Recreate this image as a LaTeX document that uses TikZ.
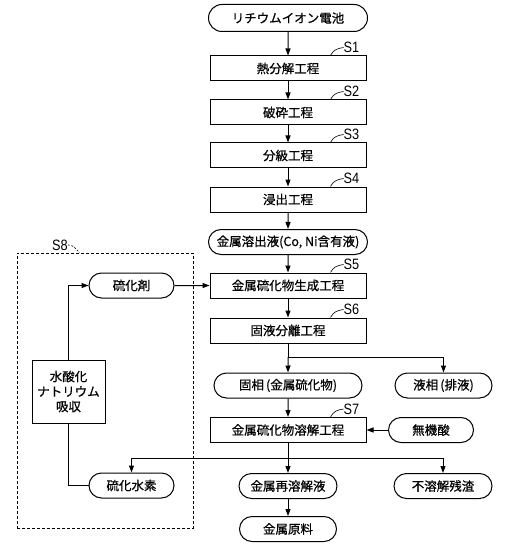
\documentclass[tikz,border=0pt]{standalone}
\usepackage{fontspec}
\setmainfont{Noto Sans CJK JP}[FakeBold=0.6]
\newfontfamily\tagfont{Liberation Sans}[FakeStretch=0.85]
\usetikzlibrary{arrows.meta,shapes.misc}

\tikzset{
  box/.style={draw, line width=1pt, minimum width=156pt, minimum height=25pt, inner sep=1pt, font=\fontsize{12.5}{15}\selectfont},
  pill/.style={draw, line width=1pt, rounded rectangle, minimum height=25pt, inner sep=1pt, font=\fontsize{12.5}{15}\selectfont},
  steptag/.style={inner sep=0pt, font=\tagfont\fontsize{15}{15}\selectfont},
  flow/.style={line width=1pt, -{Triangle[length=7pt,width=5pt]}},
  wire/.style={line width=1pt}
}

\begin{document}
\begin{tikzpicture}[x=1pt, y=-1pt]
\useasboundingbox (0,0) rectangle (529,548);
\node[pill, minimum width=161pt, minimum height=27pt] (lib) at (288,18) {リチウムイオン電池};
\node[box] (s1) at (288,68.5) {熱分解工程}; \node[box] (s2) at (288,112.5) {破砕工程}; \node[box] (s3) at (288,155.5) {分級工程}; \node[box] (s4) at (288,199.5) {浸出工程};
\node[pill, minimum width=161pt] (leach) at (288,242) {金属溶出液(Co, Ni含有液)};
\node[box] (s5) at (288,285.5) {金属硫化物生成工程}; \node[box] (s6) at (288,330.5) {固液分離工程};
\node[pill, minimum width=150pt] (solid) at (288,385.5) {固相\,(金属硫化物)}; \node[pill, minimum width=99pt] (liquid) at (443.5,385.5) {液相\,(排液)};
\node[box] (s7) at (288,430) {金属硫化物溶解工程}; \node[pill, minimum width=87pt] (acid) at (431,430) {無機酸};
\node[pill, minimum width=100pt] (redis) at (288,486) {金属再溶解液}; \node[pill, minimum width=100pt] (resid) at (443,486) {不溶解残渣};
\node[pill, minimum width=99pt] (raw) at (288,529) {金属原料};
% S8 recovery loop
\node[draw, wire, dash pattern=on 3pt off 2pt, minimum width=176pt, minimum height=275pt] (grp) at (105,390.5) {};
\node[pill, minimum width=87pt] (sulf) at (131.5,285.5) {硫化剤}; \node[pill, minimum width=87pt] (hs) at (131.5,485.5) {硫化水素};
\node[box, minimum width=73pt, minimum height=63pt, align=center] (naoh) at (68.5,391.5) {水酸化\\ナトリウム\\吸収};
\foreach \n in {1,...,7} {\node[steptag] (t\n) at ([shift={(-15,-8)}]s\n.north east) {S\n}; \draw[line width=0.6pt] ([xshift=-36pt]s\n.north east) .. controls +(3,-6) and +(-6,1) .. (t\n.west);}
\node[steptag] (t8) at (60,245) {S8}; \draw[line width=0.6pt, dash pattern=on 2pt off 1.5pt] (t8.east) .. controls +(4,-1) and +(-4,-4) .. ([xshift=63pt]grp.north west);
\draw[flow] (lib) -- (s1); \draw[flow] (s1) -- (s2); \draw[flow] (s2) -- (s3); \draw[flow] (s3) -- (s4); \draw[flow] (s4) -- (leach); \draw[flow] (leach) -- (s5);
\draw[flow] (s5) -- (s6); \coordinate (j6) at (288,357); \draw[wire] (s6) -- (j6); \draw[flow] (j6) -- (solid); \draw[flow] (j6) -| (liquid);
\draw[flow] (solid) -- (s7); \draw[flow] (acid) -- (s7);
\coordinate (j7) at (288,458); \draw[wire] (s7) -- (j7); \draw[flow] (j7) -- (redis); \draw[flow] (j7) -| (resid); \draw[flow] (j7) -| (hs);
\draw[flow] (redis) -- (raw);
\draw[flow] (sulf) -- (s5); \draw[flow] (naoh.north) |- (sulf); \draw[wire] (naoh.south) |- (hs);
\end{tikzpicture}
\end{document}
